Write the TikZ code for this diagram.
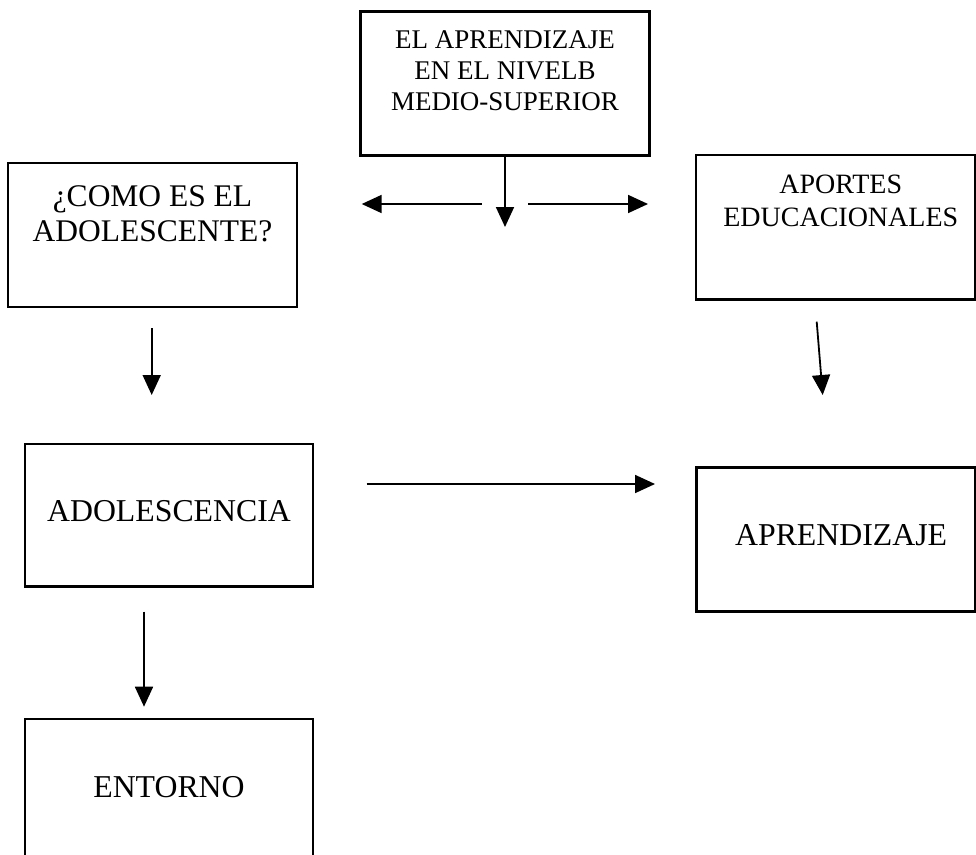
\documentclass[tikz,border=0pt]{standalone}
\usepackage{fontspec}
\setmainfont{Liberation Serif}
\usetikzlibrary{arrows.meta}
\newcommand{\cajatxt}[4]{\parbox[c][#2][t]{#1}{\centering\rule{0pt}{#3}#4}}

\begin{document}
\begin{tikzpicture}[x=1pt,y=-1pt,
  caja/.style 2 args={draw, line width=2.5pt, inner sep=0pt, font=\fontsize{#1}{#2}\selectfont},
  flecha/.style={line width=1.8pt, -{Triangle[width=18pt,length=20pt]}}]
  \useasboundingbox (0,0) rectangle (976,854);

  \node[caja={27}{31}] (nivel) at (505,83.7) {\cajatxt{288.6pt}{144pt}{36.6pt}{EL APRENDIZAJE\\EN EL NIVELB\\MEDIO-SUPERIOR}};
  \node[caja={31.5}{35.7}] (comoes) at (152.5,235) {\cajatxt{289pt}{144pt}{43pt}{¿COMO ES EL\\ADOLESCENTE?}};
  \node[caja={28}{33.3}] (aportes) at (835.75,227.25) {\hspace*{10pt}\cajatxt{269.5pt}{144.5pt}{38.3pt}{APORTES\\EDUCACIONALES}};
  \node[caja={31.8}{36}] (adolescencia) at (169,515.35) {\cajatxt{288pt}{142.7pt}{77.7pt}{ADOLESCENCIA}};
  \node[caja={31.8}{36}] (aprendizaje) at (836.1,539.7) {\hspace*{10pt}\cajatxt{268.8pt}{144pt}{77.3pt}{APRENDIZAJE}};
  \node[caja={31.8}{36}] (entorno) at (169,791) {\cajatxt{288pt}{144pt}{78pt}{ENTORNO}};

  \coordinate (nivelfin) at (505,227);
  \coordinate (izq0) at (481.7,204);
  \coordinate (izq1) at (361.7,204);
  \coordinate (der0) at (528,204);
  \coordinate (der1) at (648,204);
  \coordinate (como0) at (151.7,328);
  \coordinate (como1) at (151.7,395);
  \coordinate (apor0) at (816.7,321.7);
  \coordinate (apor1) at (822.7,395);
  \coordinate (medio0) at (366.7,484);
  \coordinate (medio1) at (655,484);
  \coordinate (ado0) at (144,611.7);
  \coordinate (ado1) at (144,706.7);

  \draw[flecha] (nivel.south) -- (nivelfin);
  \draw[flecha] (izq0) -- (izq1);
  \draw[flecha] (der0) -- (der1);
  \draw[flecha] (como0) -- (como1);
  \draw[flecha] (apor0) -- (apor1);
  \draw[flecha] (medio0) -- (medio1);
  \draw[flecha] (ado0) -- (ado1);
\end{tikzpicture}
\end{document}
